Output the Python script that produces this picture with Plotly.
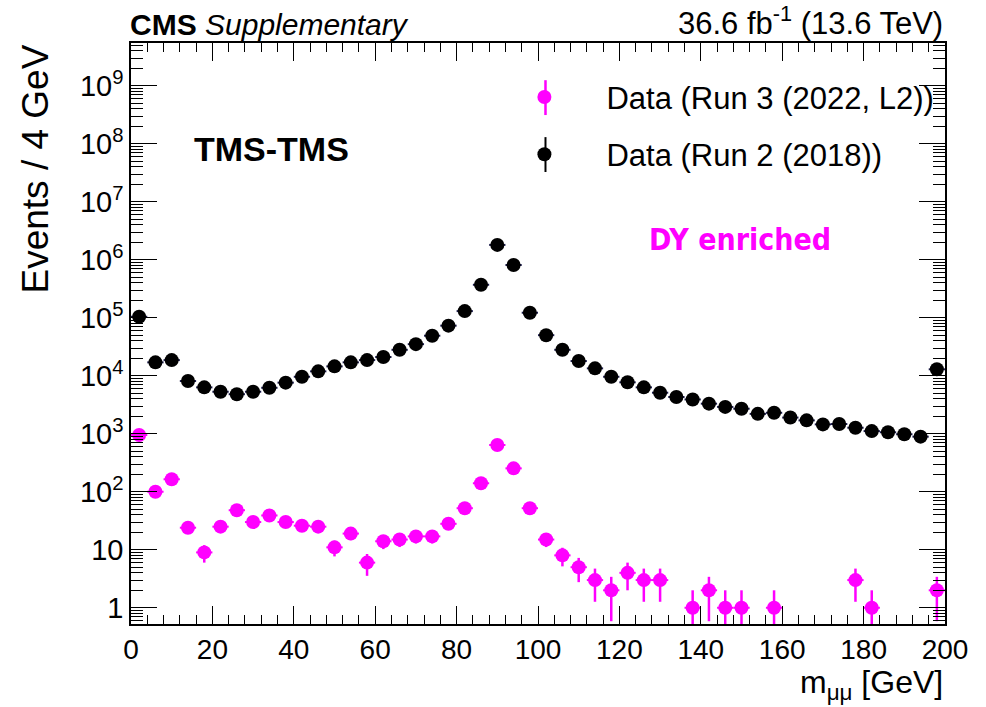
import plotly.graph_objects as go
import numpy as np

# bin centres (4 GeV bins)
mass = [2 + 4 * i for i in range(50)]

run2_2018 = [1.04e5, 1.7e4, 1.86e4, 8.1e3, 6.3e3, 5.3e3, 4.8e3, 5.3e3, 6.2e3, 7.6e3,
             9.6e3, 1.19e4, 1.45e4, 1.7e4, 1.86e4, 2.1e4, 2.8e4, 3.5e4, 4.9e4, 7.3e4,
             1.3e5, 3.7e5, 1.8e6, 8.1e5, 1.22e5, 5.0e4, 2.8e4, 1.79e4, 1.34e4, 9.6e3,
             7.7e3, 6.3e3, 5.1e3, 4.3e3, 3.9e3, 3.3e3, 2.9e3, 2.7e3, 2.2e3, 2.3e3,
             1.9e3, 1.7e3, 1.45e3, 1.47e3, 1.27e3, 1.11e3, 1.06e3, 980, 890, 1.29e4]

run3_2022 = [950, 100, 164, 24, 9, 25, 48, 30, 39, 30,
             26, 25, 11, 19, 6, 14, 15, 17, 17, 28,
             52, 140, 640, 253, 52, 15, 8, 5, 3, 2,
             4, 3, 3, None, 1, 2, 1, 1, None, 1,
             None, None, None, None, 3, 1, None, None, None, 2]

y_tickvals = [1, 10, 1e2, 1e3, 1e4, 1e5, 1e6, 1e7, 1e8, 1e9]
y_ticktext = ["1", "10", "10<sup>2</sup>", "10<sup>3</sup>", "10<sup>4</sup>", "10<sup>5</sup>",
              "10<sup>6</sup>", "10<sup>7</sup>", "10<sup>8</sup>", "10<sup>9</sup>"]
x_tickvals = [0, 20, 40, 60, 80, 100, 120, 140, 160, 180, 200]

MAG = "#ff00ff"
FONT = "Liberation Sans, Arial, sans-serif"


def errs(vals):
    up, dn = [], []
    for v in vals:
        if v is None:
            up.append(None); dn.append(None)
        else:
            e = np.sqrt(v)
            up.append(e)
            dn.append(v - max(v - e, 1e-3))
    return up, dn


fig = go.Figure()

m_up, m_dn = errs(run3_2022)
fig.add_trace(go.Scatter(
    x=mass, y=run3_2022, mode="markers", name="Data (Run 3 (2022, L2))",
    legendgroup="a",
    marker=dict(color=MAG, size=14, symbol="circle"),
    error_y=dict(type="data", array=m_up, arrayminus=m_dn, color=MAG, thickness=2.5, width=0),
    error_x=dict(type="constant", value=2, color=MAG, thickness=2, width=0),
))

b_up, b_dn = errs(run2_2018)
fig.add_trace(go.Scatter(
    x=mass, y=run2_2018, mode="markers", name="Data (Run 2 (2018))",
    legendgroup="b",
    marker=dict(color="black", size=14, symbol="circle"),
    error_y=dict(type="data", array=b_up, arrayminus=b_dn, color="black", thickness=2, width=0),
    error_x=dict(type="constant", value=2, color="#1a1a4a", thickness=2, width=0),
))

fig.update_layout(
    width=986, height=707,
    margin=dict(l=131, r=41, t=43, b=83),
    paper_bgcolor="white", plot_bgcolor="white",
    font=dict(family=FONT, color="black"),
    showlegend=True,
    legend=dict(x=0.4317, y=0.953, xanchor="left", yanchor="top",
                font=dict(size=31, family=FONT), bgcolor="rgba(0,0,0,0)",
                tracegroupgap=14, itemwidth=114),
)

# vertical error-bar strokes of the legend symbols
fig.add_shape(type="line", xref="paper", yref="paper", x0=0.5092, x1=0.5092, y0=0.876, y1=0.936,
              line=dict(color=MAG, width=2.5))
fig.add_shape(type="line", xref="paper", yref="paper", x0=0.5092, x1=0.5092, y0=0.778, y1=0.838,
              line=dict(color="black", width=2))

fig.update_xaxes(
    range=[0, 200], showline=True, linecolor="black", linewidth=1.5, mirror="allticks",
    ticks="inside", ticklen=18, tickwidth=1.2, tickcolor="black",
    tickvals=x_tickvals, tickfont=dict(size=28, family=FONT),
    minor=dict(ticks="inside", ticklen=9, tickwidth=1.2, dtick=4, tickcolor="black", showgrid=False),
    showgrid=False, zeroline=False,
)
fig.update_yaxes(
    type="log", range=[-0.28, 9.736], showline=True, linecolor="black", linewidth=1.5,
    mirror="allticks", ticks="inside", ticklen=26, tickwidth=1.2, tickcolor="black",
    tickvals=y_tickvals, ticktext=y_ticktext, tickfont=dict(size=29, family=FONT),
    minor=dict(ticks="inside", ticklen=12, tickwidth=1.2, dtick="D1", tickcolor="black", showgrid=False),
    showgrid=False, zeroline=False,
)

ann = [
    dict(text="<b>CMS</b> <i>Supplementary</i>", x=0, y=1.0, xref="paper", yref="paper", xshift=-3,
         xanchor="left", yanchor="bottom", yshift=0, showarrow=False, font=dict(size=30, family=FONT)),
    dict(text="36.6 fb<sup>-1</sup> (13.6 TeV)", x=1, y=1.0, xref="paper", yref="paper",
         xanchor="right", yanchor="bottom", yshift=0, showarrow=False, font=dict(size=31, family=FONT)),
    dict(text="<b>TMS-TMS</b>", x=0.075, y=0.817, xref="paper", yref="paper",
         xanchor="left", yanchor="middle", showarrow=False, font=dict(size=34, family=FONT)),
    dict(text="<b>DY enriched</b>", x=0.748, y=0.661, xref="paper", yref="paper",
         xanchor="center", yanchor="middle", showarrow=False,
         font=dict(size=30, family="DejaVu Sans Condensed, DejaVu Sans", color=MAG)),
    dict(text="m<sub>μμ</sub> [GeV]", x=1, y=0, xref="paper", yref="paper",
         xanchor="right", yanchor="bottom", yshift=-83, showarrow=False, font=dict(size=32, family=FONT)),
    dict(text="Events / 4 GeV", x=0, y=1, xref="paper", yref="paper", xanchor="center",
         yanchor="top", xshift=-96, yshift=0, textangle=-90, showarrow=False,
         font=dict(size=37, family=FONT)),
]
fig.update_layout(annotations=ann)

fig.write_html("out.html")
